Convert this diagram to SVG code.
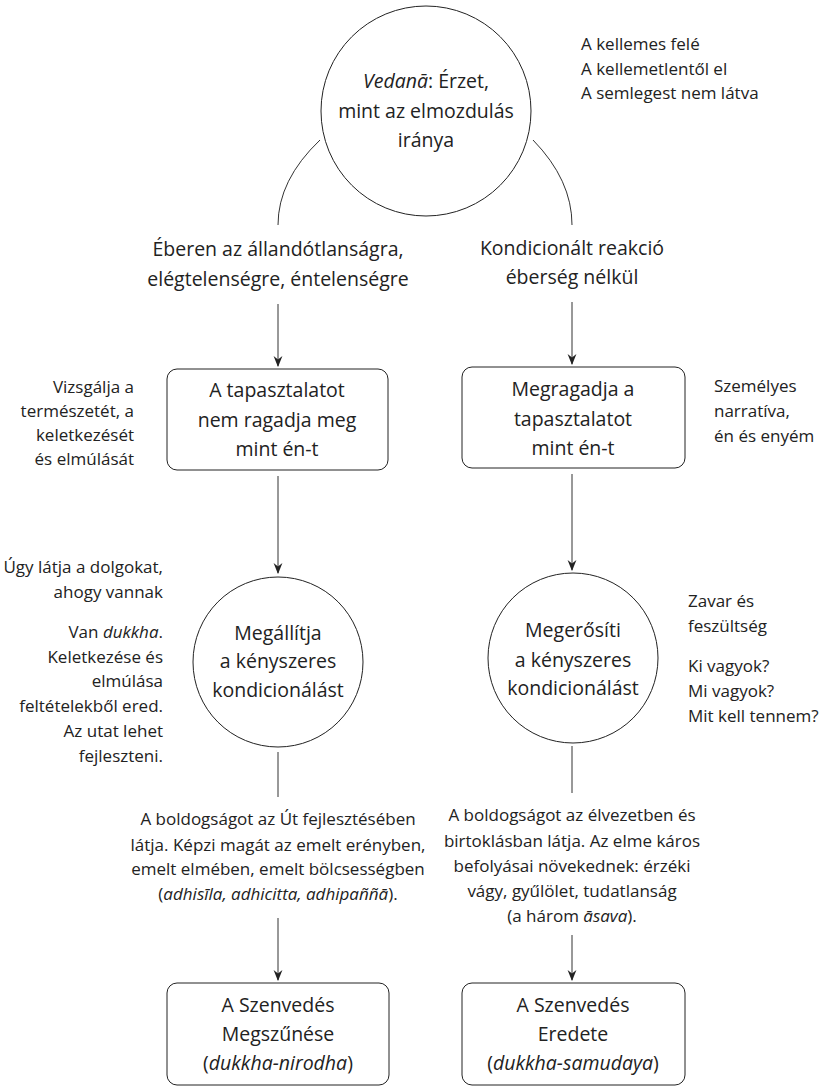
<svg xmlns="http://www.w3.org/2000/svg" width="824" height="1086" viewBox="0 0 824 1086">
  <defs>
    <marker id="arrow" viewBox="0 0 10 10" refX="9" refY="5" markerWidth="11" markerHeight="11" markerUnits="userSpaceOnUse" orient="auto">
      <path d="M0,1 L10,5 L0,9 L3,5 Z" fill="#222"/>
    </marker>
    <style>
      text { font-family: "Open Sans", "Noto Sans", "Liberation Sans", sans-serif; fill: #222; }
      .main { font-size: 19.5px; text-anchor: middle; }
      .side { font-size: 17px; }
      .para { font-size: 17px; text-anchor: middle; }
      .r { text-anchor: end; }
      .shape { fill: #fff; stroke: #222; stroke-width: 1; }
      .edge { fill: none; stroke: #333; stroke-width: 1; }
      .it { font-style: italic; }
    </style>
  </defs>

  <rect width="824" height="1086" fill="#fff"/>

  <!-- connectors -->
  <g id="connectors">
    <path class="edge" d="M320,140 Q278,180 278,225"/>
    <path class="edge" d="M533,140 Q572,180 572,225"/>
    <path class="edge" d="M278,304 L278,366" marker-end="url(#arrow)"/>
    <path class="edge" d="M572,302 L572,364" marker-end="url(#arrow)"/>
    <path class="edge" d="M278,476 L278,573" marker-end="url(#arrow)"/>
    <path class="edge" d="M572,474 L572,570" marker-end="url(#arrow)"/>
    <path class="edge" d="M278,752 L278,797"/>
    <path class="edge" d="M572,746 L572,793"/>
    <path class="edge" d="M278,918 L278,980" marker-end="url(#arrow)"/>
    <path class="edge" d="M572,935 L572,980" marker-end="url(#arrow)"/>
  </g>

  <!-- top: feeling tone -->
  <g id="vedana">
    <circle class="shape" cx="426" cy="111" r="105"/>
    <text class="main" x="426" y="88"><tspan class="it">Vedanā</tspan>: Érzet,</text>
    <text class="main" x="426" y="118">mint az elmozdulás</text>
    <text class="main" x="426" y="147">iránya</text>
  </g>

  <g id="vedana-note">
    <text class="side" x="581" y="50">A kellemes felé</text>
    <text class="side" x="581" y="75">A kellemetlentől el</text>
    <text class="side" x="581" y="99">A semlegest nem látva</text>
  </g>

  <!-- branch labels -->
  <g id="label-aware">
    <text class="main" x="278" y="256">Éberen az állandótlanságra,</text>
    <text class="main" x="278" y="286">elégtelenségre, éntelenségre</text>
  </g>
  <g id="label-reactive">
    <text class="main" x="572" y="255">Kondicionált reakció</text>
    <text class="main" x="572" y="284">éberség nélkül</text>
  </g>

  <!-- left column -->
  <g id="not-grasping">
    <rect class="shape" x="167" y="369" width="221" height="101" rx="10"/>
    <text class="main" x="277" y="397">A tapasztalatot</text>
    <text class="main" x="277" y="427">nem ragadja meg</text>
    <text class="main" x="277" y="456">mint én-t</text>
  </g>
  <g id="not-grasping-note">
    <text class="side r" x="134" y="393">Vizsgálja a</text>
    <text class="side r" x="134" y="417">természetét, a</text>
    <text class="side r" x="134" y="441">keletkezését</text>
    <text class="side r" x="134" y="465">és elmúlását</text>
  </g>

  <g id="stops">
    <circle class="shape" cx="278" cy="662" r="85"/>
    <text class="main" x="278" y="640">Megállítja</text>
    <text class="main" x="278" y="668">a kényszeres</text>
    <text class="main" x="278" y="697">kondicionálást</text>
  </g>
  <g id="stops-note">
    <text class="side r" x="163" y="573">Úgy látja a dolgokat,</text>
    <text class="side r" x="163" y="598">ahogy vannak</text>
    <text class="side r" x="163" y="638">Van <tspan class="it">dukkha</tspan>.</text>
    <text class="side r" x="163" y="663">Keletkezése és</text>
    <text class="side r" x="163" y="687">elmúlása </text>
    <text class="side r" x="163" y="712">feltételekből ered.</text>
    <text class="side r" x="163" y="737">Az utat lehet</text>
    <text class="side r" x="163" y="762">fejleszteni.</text>
  </g>

  <g id="path-happiness">
    <text class="para" x="278" y="825">A boldogságot az Út fejlesztésében</text>
    <text class="para" x="278" y="851">látja. Képzi magát az emelt erényben,</text>
    <text class="para" x="278" y="875">emelt elmében, emelt bölcsességben</text>
    <text class="para" x="278" y="900">(<tspan class="it">adhisīla, adhicitta, adhipaññā</tspan>).</text>
  </g>

  <g id="cessation">
    <rect class="shape" x="167" y="983" width="222" height="102" rx="10"/>
    <text class="main" x="278" y="1012">A Szenvedés</text>
    <text class="main" x="278" y="1041">Megszűnése</text>
    <text class="main" x="278" y="1070">(<tspan class="it">dukkha-nirodha</tspan>)</text>
  </g>

  <!-- right column -->
  <g id="grasping">
    <rect class="shape" x="462" y="367" width="223" height="101" rx="10"/>
    <text class="main" x="573" y="396">Megragadja a</text>
    <text class="main" x="573" y="426">tapasztalatot</text>
    <text class="main" x="573" y="455">mint én-t</text>
  </g>
  <g id="grasping-note">
    <text class="side" x="714" y="392">Személyes</text>
    <text class="side" x="714" y="417">narratíva,</text>
    <text class="side" x="714" y="442">én és enyém</text>
  </g>

  <g id="reinforces">
    <circle class="shape" cx="573" cy="658" r="85"/>
    <text class="main" x="573" y="637">Megerősíti</text>
    <text class="main" x="573" y="667">a kényszeres</text>
    <text class="main" x="573" y="695">kondicionálást</text>
  </g>
  <g id="reinforces-note">
    <text class="side" x="688" y="607">Zavar és</text>
    <text class="side" x="688" y="632">feszültség</text>
    <text class="side" x="688" y="672">Ki vagyok?</text>
    <text class="side" x="688" y="697">Mi vagyok?</text>
    <text class="side" x="688" y="722">Mit kell tennem?</text>
  </g>

  <g id="pleasure-happiness">
    <text class="para" x="572" y="821">A boldogságot az élvezetben és</text>
    <text class="para" x="572" y="847">birtoklásban látja. Az elme káros</text>
    <text class="para" x="572" y="872">befolyásai növekednek: érzéki</text>
    <text class="para" x="572" y="897">vágy, gyűlölet, tudatlanság</text>
    <text class="para" x="572" y="922">(a három <tspan class="it">āsava</tspan>).</text>
  </g>

  <g id="origin">
    <rect class="shape" x="462" y="983" width="223" height="102" rx="10"/>
    <text class="main" x="573" y="1012">A Szenvedés</text>
    <text class="main" x="573" y="1041">Eredete</text>
    <text class="main" x="573" y="1070">(<tspan class="it">dukkha-samudaya</tspan>)</text>
  </g>
</svg>
